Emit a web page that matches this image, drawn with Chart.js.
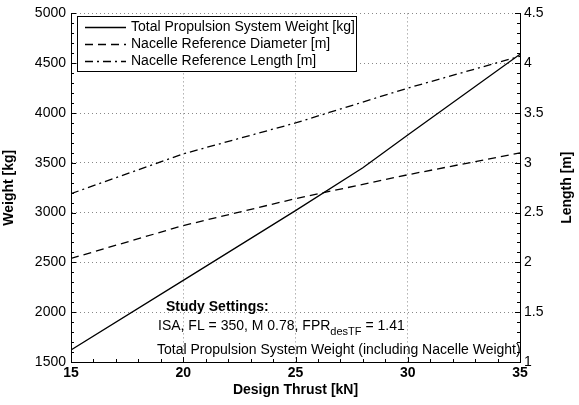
<!DOCTYPE html>
<html>
<head>
<meta charset="utf-8">
<script src="https://cdn.jsdelivr.net/npm/chart.js@4.4.1/dist/chart.umd.min.js"></script>
<style>
  html, body { margin: 0; padding: 0; background: #fff; }
  #wrap { width: 579px; height: 405px; }
</style>
</head>
<body>
<div id="wrap"><canvas id="thrust-chart"></canvas></div>
<script>
// values
const thrustWeight = [15, 20, 25, 28, 30, 35];          // kN
const weightKg = [1620, 2320, 3020, 3450, 3780, 4590];  // Total Propulsion System Weight
const thrustNacelle = [15, 20, 25, 30, 35];             // kN
const diameterM = [2.04, 2.37, 2.64, 2.88, 3.10];       // Nacelle Reference Diameter
const lengthM = [2.69, 3.09, 3.40, 3.75, 4.07];         // Nacelle Reference Length

const xTicks = [15, 20, 25, 30, 35];
const weightTicks = [1500, 2000, 2500, 3000, 3500, 4000, 4500, 5000];
const lengthTicks = [1, 1.5, 2, 2.5, 3, 3.5, 4, 4.5];

const FONT = "'Liberation Sans', Arial, sans-serif";

const toPoints = (xs, ys) => xs.map((x, i) => ({ x: x, y: ys[i] }));

// Legend box drawn inside the plot, top left
const legendBox = {
  id: 'legendBox',
  afterDatasetsDraw(chart) {
    const ctx = chart.ctx;
    ctx.save();
    ctx.fillStyle = '#fff';
    ctx.fillRect(77.5, 16.5, 279, 55);
    ctx.strokeStyle = '#000';
    ctx.lineWidth = 1;
    ctx.strokeRect(77.5, 16.5, 279, 55);
    ctx.font = '14px ' + FONT;
    ctx.fillStyle = '#000';
    ctx.textBaseline = 'middle';
    chart.data.datasets.forEach((ds, i) => {
      const y = 27.5 + i * 17;
      ctx.beginPath();
      ctx.setLineDash(ds.borderDash || []);
      ctx.lineWidth = ds.borderWidth;
      ctx.moveTo(85, y);
      ctx.lineTo(126, y);
      ctx.stroke();
      ctx.setLineDash([]);
      ctx.fillText(ds.label, 131, y);
    });
    ctx.restore();
  }
};

// Study settings text, inward major/minor ticks and the right axis title
const extras = {
  id: 'extras',
  afterDraw(chart) {
    const ctx = chart.ctx;
    const { left, right, bottom } = chart.chartArea;
    const sx = chart.scales.x, sy = chart.scales.y, sy2 = chart.scales.y2;
    ctx.save();
    ctx.strokeStyle = '#000';
    ctx.lineWidth = 1;
    ctx.beginPath();
    for (let v = 15; v <= 35; v += 1) {
      const px = Math.round(sx.getPixelForValue(v)) + 0.5;
      const len = v % 5 === 0 ? 5 : 3;
      ctx.moveTo(px, bottom); ctx.lineTo(px, bottom - len);
    }
    for (let v = 1500; v <= 5000; v += 100) {
      const py = Math.round(sy.getPixelForValue(v)) + 0.5;
      const len = v % 500 === 0 ? 5 : 3;
      ctx.moveTo(left, py); ctx.lineTo(left + len, py);
    }
    for (let k = 10; k <= 45; k += 1) {
      const py = Math.round(sy2.getPixelForValue(k / 10)) + 0.5;
      const len = k % 5 === 0 ? 5 : 3;
      ctx.moveTo(right, py); ctx.lineTo(right - len, py);
    }
    ctx.stroke();

    // annotation block
    ctx.fillStyle = '#000';
    ctx.textBaseline = 'middle';
    ctx.font = 'bold 14px ' + FONT;
    ctx.fillText('Study Settings:', 166, 307);
    ctx.font = '14px ' + FONT;
    const part1 = 'ISA, FL = 350, M 0.78, FPR';
    ctx.fillText(part1, 158, 326);
    let x = 158 + ctx.measureText(part1).width;
    ctx.font = '11px ' + FONT;
    ctx.fillText('desTF', x, 332);
    x += ctx.measureText('desTF').width;
    ctx.font = '14px ' + FONT;
    ctx.fillText(' = 1.41', x, 326);
    ctx.fillText('Total Propulsion System Weight (including Nacelle Weight)', 157, 350);

    // right axis title, reading bottom to top like the left one
    ctx.font = 'bold 14px ' + FONT;
    ctx.translate(567, (chart.chartArea.top + bottom) / 2);
    ctx.rotate(-Math.PI / 2);
    ctx.textAlign = 'center';
    ctx.fillText('Length [m]', 0, 0);
    ctx.restore();
  }
};

const gridStyle = { color: '#888', lineWidth: 1, drawTicks: false };
const plain = (v) => String(v);

new Chart(document.getElementById('thrust-chart').getContext('2d'), {
  type: 'line',
  data: {
    datasets: [{
      label: 'Total Propulsion System Weight [kg]',
      data: toPoints(thrustWeight, weightKg),
      yAxisID: 'y',
      borderColor: '#000',
      borderWidth: 1.3,
      pointRadius: 0,
      tension: 0
    }, {
      label: 'Nacelle Reference Diameter [m]',
      data: toPoints(thrustNacelle, diameterM),
      yAxisID: 'y2',
      borderColor: '#000',
      borderWidth: 1.3,
      borderDash: [8, 5],
      pointRadius: 0,
      tension: 0
    }, {
      label: 'Nacelle Reference Length [m]',
      data: toPoints(thrustNacelle, lengthM),
      yAxisID: 'y2',
      borderColor: '#000',
      borderWidth: 1.3,
      borderDash: [8, 4, 2, 4],
      pointRadius: 0,
      tension: 0
    }]
  },
  options: {
    responsive: true,
    maintainAspectRatio: false,
    animation: false,
    events: [],
    layout: { padding: { top: 9, left: 0, right: 0, bottom: 0 } },
    plugins: { legend: { display: false }, tooltip: { enabled: false } },
    scales: {
      x: {
        type: 'linear', min: 15, max: 35,
        afterBuildTicks: (s) => { s.ticks = xTicks.map(v => ({ value: v })); },
        afterFit: (s) => { s.height = 43; },
        ticks: { color: '#000', font: { family: FONT, size: 14, weight: 'bold' }, padding: 3, maxRotation: 0, callback: plain },
        grid: gridStyle,
        border: { color: '#000', width: 1, dash: [1, 3] },
        title: { display: true, text: 'Design Thrust [kN]', color: '#000', font: { family: FONT, size: 14, weight: 'bold' }, padding: { top: 0, bottom: 6 } }
      },
      y: {
        position: 'left', min: 1500, max: 5000,
        afterBuildTicks: (s) => { s.ticks = weightTicks.map(v => ({ value: v })); },
        afterFit: (s) => { s.width = 71; },
        ticks: { color: '#000', font: { family: FONT, size: 14 }, padding: 5, callback: plain },
        grid: gridStyle,
        border: { color: '#000', width: 1, dash: [1, 3] },
        title: { display: true, text: 'Weight [kg]', color: '#000', font: { family: FONT, size: 14, weight: 'bold' }, padding: { top: 1, bottom: 0 } }
      },
      y2: {
        position: 'right', min: 1, max: 4.5,
        afterBuildTicks: (s) => { s.ticks = lengthTicks.map(v => ({ value: v })); },
        afterFit: (s) => { s.width = 59; },
        ticks: { color: '#000', font: { family: FONT, size: 14 }, padding: 4, callback: plain },
        grid: { display: false, drawTicks: false },
        border: { color: '#000', width: 1 }
      }
    }
  },
  plugins: [legendBox, extras]
});
</script>
</body>
</html>
